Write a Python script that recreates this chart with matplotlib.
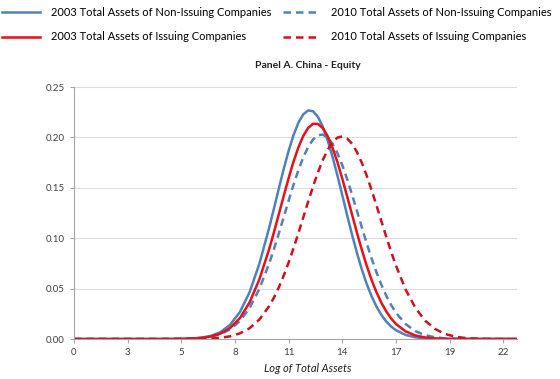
import numpy as np
import matplotlib
matplotlib.use("Agg")
import matplotlib.pyplot as plt

plt.rcParams['font.family'] = ['Lato', 'DejaVu Sans']

# log of total assets (x) and density
log_assets = [0.0, 0.5, 1.0, 1.5, 2.0, 2.5, 3.0, 3.5, 4.0, 4.5,
              5.0, 5.5, 6.0, 6.5, 7.0, 7.5, 8.0, 8.5, 9.0, 9.5, 10.0,
              10.25, 10.5, 10.75, 11.0, 11.25, 11.5, 11.75, 12.0, 12.25, 12.5,
              12.75, 13.0, 13.25, 13.5, 13.75, 14.0, 14.25, 14.5, 14.75, 15.0,
              15.25, 15.5, 15.75, 16.0, 16.25, 16.5,
              17.0, 17.5, 18.0, 18.5, 19.0, 19.5, 20.0, 20.5, 21.0, 21.5, 22.0, 22.5, 22.7]

non_issuing_2003 = [0, 0, 0, 0, 0, 0, 0, 0, 0, 0,
                    0.0001, 0.0002, 0.0005, 0.0013, 0.0030, 0.0068, 0.0141, 0.0267, 0.0465, 0.0747, 0.1102,
                    0.1297, 0.1496, 0.1689, 0.1868, 0.2023, 0.2146, 0.2229, 0.2268, 0.2259, 0.2204,
                    0.2106, 0.1971, 0.1806, 0.1621, 0.1425, 0.1226, 0.1034, 0.0854, 0.0690, 0.0546,
                    0.0424, 0.0322, 0.0239, 0.0174, 0.0124, 0.0087,
                    0.0040, 0.0017, 0.0007, 0.0002, 0.0001, 0, 0, 0, 0, 0, 0, 0, 0]
issuing_2003 = [0, 0, 0, 0, 0, 0, 0, 0, 0, 0,
                0.0000, 0.0001, 0.0004, 0.0010, 0.0024, 0.0053, 0.0109, 0.0207, 0.0364, 0.0592, 0.0891,
                0.1062, 0.1240, 0.1421, 0.1597, 0.1760, 0.1902, 0.2015, 0.2095, 0.2135, 0.2134,
                0.2092, 0.2012, 0.1896, 0.1754, 0.1590, 0.1413, 0.1233, 0.1054, 0.0884, 0.0727,
                0.0586, 0.0464, 0.0360, 0.0274, 0.0204, 0.0149,
                0.0075, 0.0035, 0.0015, 0.0006, 0.0002, 0.0001, 0, 0, 0, 0, 0, 0, 0]
non_issuing_2010 = [0, 0, 0, 0, 0, 0, 0, 0, 0, 0,
                    0.0001, 0.0002, 0.0004, 0.0010, 0.0023, 0.0048, 0.0096, 0.0178, 0.0308, 0.0498, 0.0748,
                    0.0894, 0.1050, 0.1212, 0.1374, 0.1531, 0.1676, 0.1803, 0.1906, 0.1980, 0.2022,
                    0.2028, 0.1999, 0.1937, 0.1843, 0.1724, 0.1585, 0.1431, 0.1270, 0.1108, 0.0949,
                    0.0799, 0.0662, 0.0538, 0.0430, 0.0338, 0.0260,
                    0.0147, 0.0077, 0.0038, 0.0017, 0.0007, 0.0003, 0.0001, 0, 0, 0, 0, 0, 0]
issuing_2010 = [0, 0, 0, 0, 0, 0, 0, 0, 0, 0,
                0, 0, 0.0001, 0.0002, 0.0005, 0.0012, 0.0027, 0.0056, 0.0107, 0.0193, 0.0326,
                0.0413, 0.0514, 0.0630, 0.0760, 0.0901, 0.1051, 0.1207, 0.1363, 0.1513, 0.1653,
                0.1776, 0.1877, 0.1953, 0.1998, 0.2010, 0.1989, 0.1937, 0.1855, 0.1748, 0.1620,
                0.1478, 0.1325, 0.1169, 0.1015, 0.0866, 0.0728,
                0.0488, 0.0307, 0.0181, 0.0100, 0.0051, 0.0025, 0.0011, 0.0005, 0.0002, 0.0001, 0, 0, 0]

x_tick_labels = ['0', '3', '5', '8', '11', '14', '17', '19', '22']

blue = '#4F81BD'
red = '#E8101A'
red_dash = '#D0101E'

fig = plt.figure(figsize=(5.6, 3.79), dpi=100)
ax = fig.add_axes([0.1321, 0.1055, 0.7911, 0.6649])

l1, = ax.plot(log_assets, non_issuing_2003, color=blue, lw=1.8,
              label='2003 Total Assets of Non-Issuing Companies')
l3, = ax.plot(log_assets, non_issuing_2010, color=blue, lw=1.8, dashes=(3, 2),
              label='2010 Total Assets of Non-Issuing Companies')
l2, = ax.plot(log_assets, issuing_2003, color=red, lw=1.8,
              label='2003 Total Assets of Issuing Companies')
l4, = ax.plot(log_assets, issuing_2010, color=red_dash, lw=1.8, dashes=(3, 2),
              label='2010 Total Assets of Issuing Companies')

ax.set_xlim(0, 22.7)
ax.set_ylim(0, 0.25)
ax.set_yticks(np.arange(0, 0.251, 0.05))
ax.set_yticklabels(['%.2f' % v for v in np.arange(0, 0.251, 0.05)])
ax.set_xticks(np.arange(len(x_tick_labels)) * 2.75)
ax.set_xticklabels(x_tick_labels)
ax.tick_params(axis='both', labelsize=7, colors='#404040', length=3, width=0.8)
ax.tick_params(axis='both', color='#A6A6A6')
ax.grid(axis='y', color='#DDDDDD', lw=0.8)
ax.set_axisbelow(True)
for s in ['top', 'right']:
    ax.spines[s].set_visible(False)
for s in ['left', 'bottom']:
    ax.spines[s].set_color('#A6A6A6')
    ax.spines[s].set_linewidth(0.8)

fig.text(308 / 560, 1 - 369 / 379, 'Log of Total Assets', style='italic',
         fontsize=8, ha='center', va='center', color='#202020')
fig.text(308 / 560, 1 - 66 / 379, 'Panel A. China - Equity', fontweight='bold',
         fontsize=7.5, ha='center', va='center', color='#202020')

fig.legend(handles=[l1, l2, l3, l4], loc='upper left', bbox_to_anchor=(0.0, 0.987),
           ncol=2, frameon=False, fontsize=8, handlelength=3.4, handletextpad=1.0,
           columnspacing=1.0, labelspacing=1.2, borderaxespad=0.0, borderpad=0.2)

fig.savefig('out.png', dpi=100)
